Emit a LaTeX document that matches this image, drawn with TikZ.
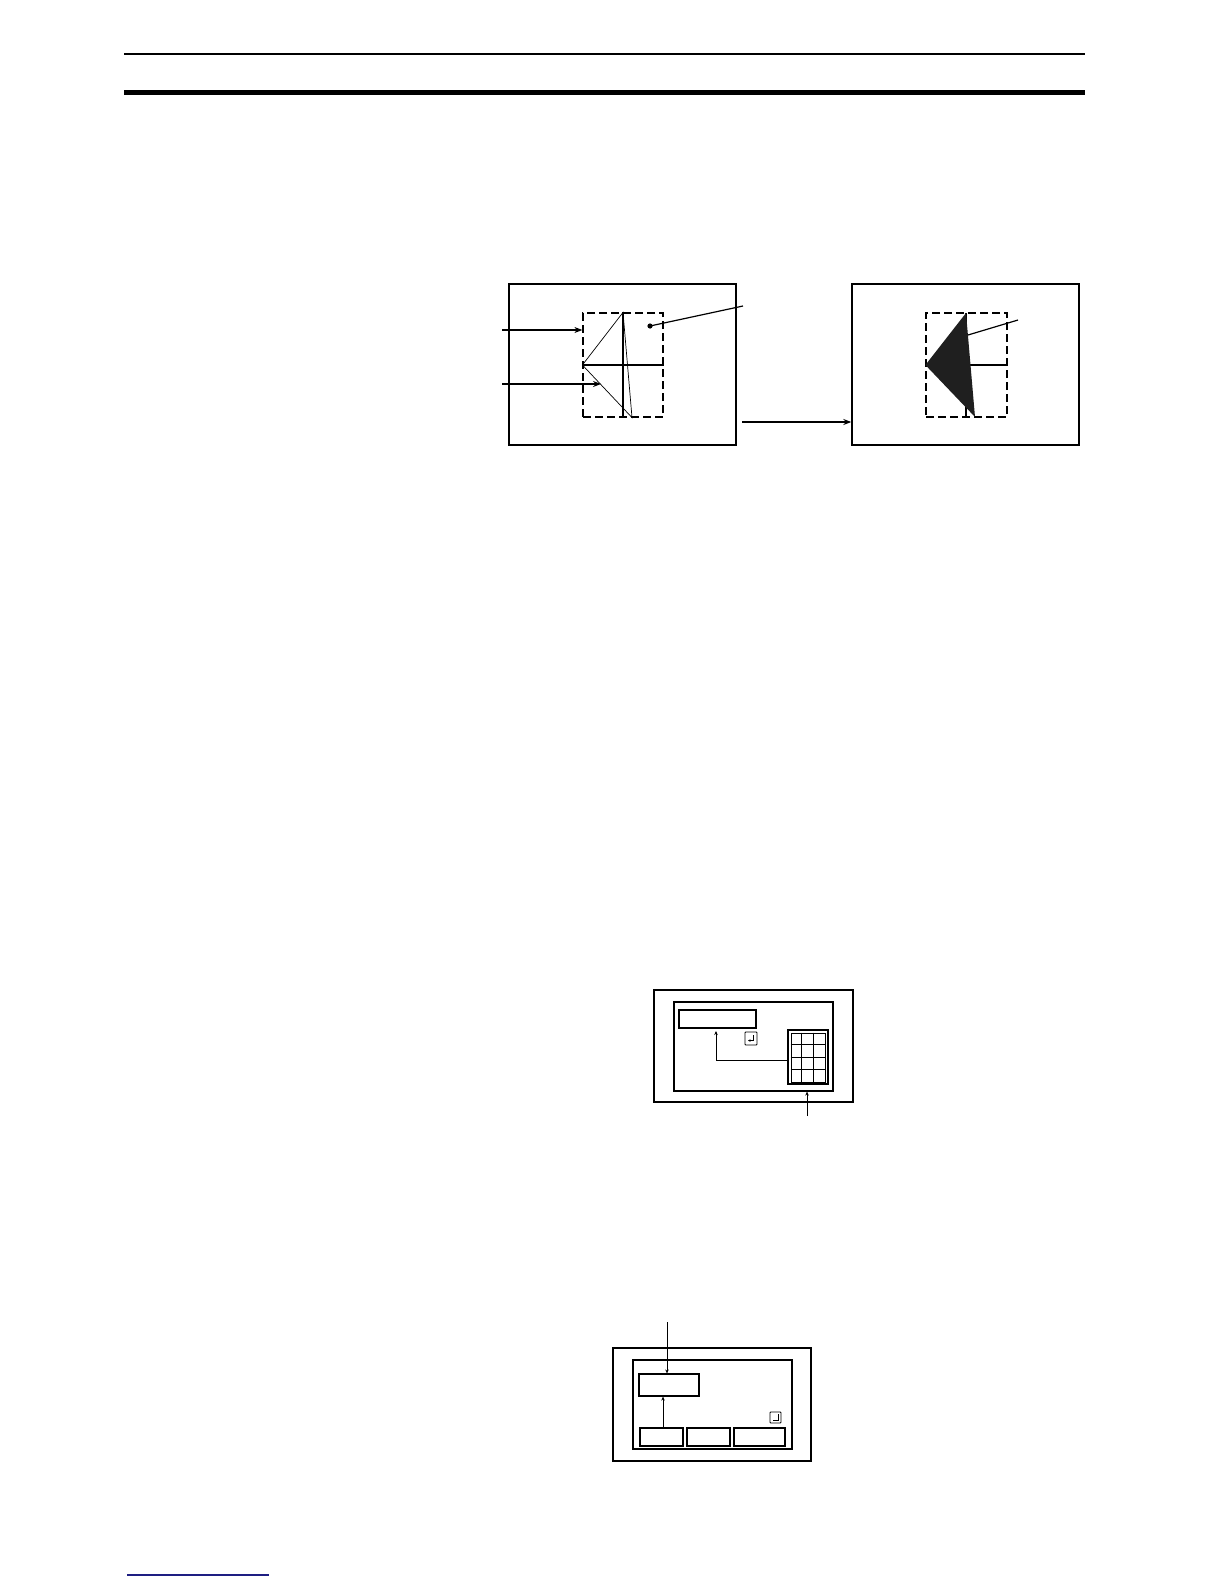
\documentclass[tikz,border=0pt]{standalone}
\usepackage{xcolor}
\usepackage{tikz}
\usetikzlibrary{arrows.meta,calc}

\definecolor{footblue}{RGB}{30,30,130}

\begin{document}
\begin{tikzpicture}[x=1pt,y=-1pt]
        % Define styles
        \tikzset{
            screen/.style={rectangle, draw, line width=1.4pt, inner sep=0pt},
            area/.style={rectangle, draw, dash pattern=on 8pt off 4pt, line width=1.2pt, inner sep=0pt},
            field/.style={rectangle, draw, line width=1.2pt, inner sep=0pt},
            key/.style={rectangle, draw, line width=0.9pt, inner sep=0pt, rounded corners=0.8pt},
            arrow/.style={->,>={Stealth[length=8pt,width=6pt]}, line width=1.2pt},
            smallarrow/.style={->,>={Stealth[length=4pt,width=3.5pt]}, line width=1pt},
            thinline/.style={line width=0.7pt}
        }

        \useasboundingbox (0,0) rectangle (1224,1584);

        % Page rules
        \coordinate (ruleL) at (124,54);
        \coordinate (ruleR) at (1085,54);
        \draw[line width=1.5pt] (ruleL) -- (ruleR);
        \coordinate (barL) at (124,92.5);
        \coordinate (barR) at (1085,92.5);
        \draw[line width=5.5pt] (barL) -- (barR);
        \coordinate (footL) at (127,1575);
        \coordinate (footR) at (269,1575);
        \draw[footblue, line width=1.5pt] (footL) -- (footR);

        % Panel before
        \node[screen, minimum width=227pt, minimum height=161pt] (scrA) at (622.5,364.5) {};
        \node[area, minimum width=80pt, minimum height=104pt] (areaA) at (623,365) {};
        \coordinate (botA) at ($(areaA.south)+(9,0)$);
        \draw[line width=1.2pt] (areaA.west) -- (areaA.east);
        \draw[line width=1.2pt] (areaA.north) -- (areaA.south);
        \draw[thinline] (areaA.west) -- (areaA.north) -- (botA) -- cycle;
        \coordinate (dotA) at (650,326);
        \coordinate (tagA) at (743,306);
        \fill (dotA) circle (2.6pt);
        \draw[line width=1.2pt] (dotA) -- (tagA);

        % Arrows into panel before
        \coordinate (inA) at (502,330);
        \coordinate (inB) at (502,384);
        \coordinate (edgeB) at (601,384);
        \draw[arrow] (inA) -- (inA -| areaA.west);
        \draw[arrow] (inB) -- (edgeB);

        % Panel after
        \node[screen, minimum width=227pt, minimum height=161pt] (scrB) at (965.5,364.5) {};
        \node[area, minimum width=81pt, minimum height=104pt] (areaB) at (966.5,365) {};
        \coordinate (topB) at (966,313);
        \coordinate (botB) at (975,417);
        \draw[line width=1.2pt] (topB) -- (topB |- areaB.south);
        \draw[line width=1.2pt] (topB |- areaB.west) -- (areaB.east);
        \fill[black!88] (areaB.west) -- (topB) -- (botB) -- cycle;
        \coordinate (dotB) at (968,335);
        \coordinate (tagB) at (1018,320);
        \draw[line width=1.2pt] (dotB) -- (tagB);

        % Arrow between panels
        \coordinate (goA) at (742,422);
        \draw[arrow] (goA) -- (goA -| scrB.west);

        % Keypad screen
        \node[screen, minimum width=199pt, minimum height=112pt] (padOuter) at (753.5,1046) {};
        \node[field, minimum width=159pt, minimum height=89pt] (padInner) at (753.5,1046.5) {};
        \node[field, minimum width=77pt, minimum height=18pt] (padShow) at (717.5,1019) {};
        \node[key, minimum width=12pt, minimum height=13pt] (padEnter) at (751,1038.5) {};
        \draw[smallarrow, line width=0.8pt, >={Stealth[length=2.5pt,width=2.5pt]}] ($(padEnter.center)+(2.5,-3.5)$) -- ($(padEnter.center)+(2.5,2)$) -- ($(padEnter.center)+(-3,2)$);
        \node[field, minimum width=40pt, minimum height=54pt] (padKeys) at (808,1057) {};
        \node[field, line width=1pt, minimum width=34pt, minimum height=49pt] (padGrid) at (808,1057.5) {};
        \foreach \i in {1,2}
            \draw[line width=1pt] ($(padGrid.north west)+(\i*34/3,0)$) -- ($(padGrid.south west)+(\i*34/3,0)$);
        \foreach \j in {1,2,3}
            \draw[line width=1pt] ($(padGrid.north west)+(0,\j*49/4)$) -- ($(padGrid.north east)+(0,\j*49/4)$);
        \coordinate (padTurn) at (716,1060);
        \coordinate (padTip) at (716,1031);
        \draw[smallarrow] (padTurn -| padKeys.west) -- (padTurn) -- (padTip);
        \coordinate (padLead) at (807,1116);
        \draw[smallarrow] (padLead) -- (padLead |- padInner.south);

        % Button screen
        \node[screen, minimum width=198pt, minimum height=113pt] (btnOuter) at (712,1404.5) {};
        \node[field, minimum width=159pt, minimum height=89pt] (btnInner) at (712.5,1404.5) {};
        \node[field, minimum width=60pt, minimum height=22pt] (btnShow) at (669,1385) {};
        \node[key, minimum width=11pt, minimum height=11pt] (btnEnter) at (775.5,1417.5) {};
        \draw[line width=0.8pt] ($(btnEnter.center)+(2.5,-3.5)$) -- ($(btnEnter.center)+(2.5,2.5)$) -- ($(btnEnter.center)+(-2.5,2.5)$);
        \node[field, minimum width=43pt, minimum height=18pt] (btnOne) at (661.5,1437) {};
        \node[field, minimum width=43pt, minimum height=18pt] (btnTwo) at (708.5,1437) {};
        \node[field, minimum width=51pt, minimum height=18pt] (btnThree) at (759.5,1437) {};
        \coordinate (btnLead) at (667,1322);
        \draw[smallarrow] (btnLead) -- (btnLead |- btnShow.north);
        \coordinate (btnFoot) at (663,1428);
        \draw[smallarrow] (btnFoot) -- (btnFoot |- btnShow.south);
    \end{tikzpicture}
\end{document}
